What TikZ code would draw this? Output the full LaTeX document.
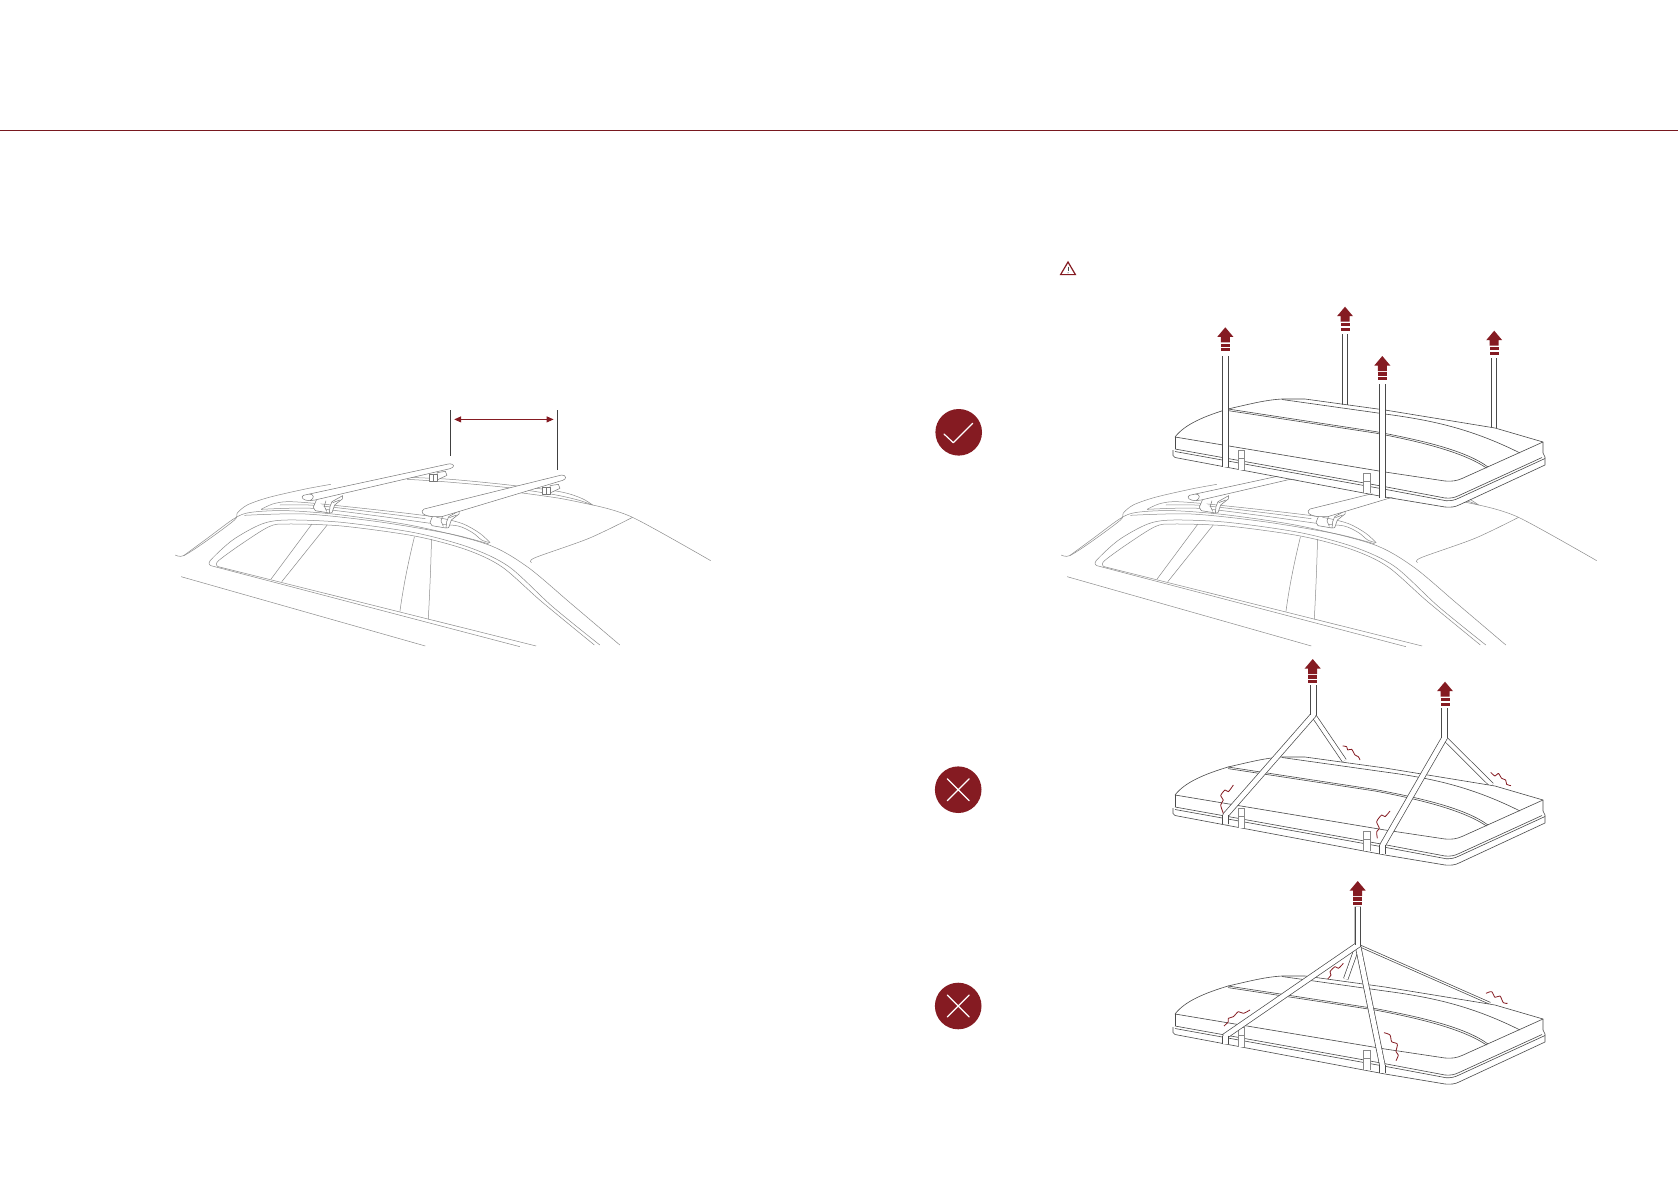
\documentclass[tikz,border=0pt]{standalone}
\usetikzlibrary{arrows.meta}
\definecolor{brickred}{HTML}{851B22}
\definecolor{carline}{HTML}{8C8C8C}
\definecolor{boxline}{HTML}{4A4A4A}
\tikzset{
  carstroke/.style={draw=carline,line width=.5pt,line join=round},
  barstroke/.style={draw=boxline!75,line width=.5pt,fill=white,line join=round},
  boxstroke/.style={draw=boxline,line width=.6pt,line join=round},
  bucklestroke/.style={draw=boxline!65,line width=.5pt},
  strapband/.style={draw=boxline,line width=.7pt,double=white,double distance=#1,line join=miter},
  strapband/.default=4.8pt,
  strapedge/.style={draw=boxline,line width=.7pt},
  wobble/.style={draw=brickred,line width=.8pt,line join=round},
  badge/.style={circle,fill=brickred,minimum size=46.6pt,inner sep=0pt,draw=none},
  badgemark/.style={draw=white,line width=1.2pt,line cap=round,line join=round},
  dimline/.style={draw=black!75,line width=.7pt},
  zoomcell/.style={shift={(#1)},scale=.33333}
}
% vertical run of a strap between two named coordinates; #3 is half its width
\newcommand\vband[3]{%
  \fill[white] ([xshift=-#3]#1) rectangle ([xshift=#3]#2);
  \draw[strapedge] ([xshift=-#3]#1) -- ([xshift=-#3]#2);
  \draw[strapedge] ([xshift=#3]#1) -- ([xshift=#3]#2);}
% lifting arrow, apex at (#1,#2)
\newcommand\liftarrow[2]{%
  \begin{scope}[shift={(#1,#2)}]
    \fill[brickred] (0,0) -- (8,9.5) -- (4.5,9.5) -- (4.5,15) -- (-4.5,15) -- (-4.5,9.5) -- (-8,9.5) -- cycle;
    \fill[brickred] (-4.5,16.4) rectangle (4.5,19.6);
    \fill[brickred] (-4.5,20.9) rectangle (4.5,24);
  \end{scope}}
% near foot, zoom units
\newcommand\nearfoot[2]{%
  \begin{scope}[shift={(#1,#2)},scale=.33333]
    \draw[barstroke] (70,148) -- (60,172) -- (66,182) -- (108,189) -- (110,170) -- (116,155) -- (148,137) -- (147,147) -- (124,165) -- (116,188) -- (108,189);
    \draw[barstroke,fill=none] (98,152) -- (93,168) -- (100,184);
    \draw[barstroke,fill=none] (118,158) -- (140,150);
  \end{scope}}
% far foot, zoom units
\newcommand\farfoot[2]{%
  \begin{scope}[shift={(#1,#2)},scale=.33333]
    \draw[barstroke] (420,62) -- (445,58) -- (450,70) -- (420,84) -- cycle;
    \draw[barstroke] (397,68) rectangle (420,88);
    \draw[barstroke,fill=none] (408,68) -- (408,88);
  \end{scope}}
\newcommand\carscene[1]{%
  \begin{scope}[shift={(#1,0)}]
    \begin{scope}[shift={(160,390)},xscale=.3635,yscale=.33333]
      % windscreen side and roof edge
      \draw[carstroke] plot[smooth,tension=.5] coordinates {(42,495) (65,497) (125,455) (205,390) (212,370) (240,345) (300,322) (400,297) (470,283)};
      \draw[carstroke] plot[smooth,tension=.5] coordinates {(65,497) (130,445) (205,385) (250,367) (350,362) (500,375) (700,408) (900,463) (1010,530) (1130,640) (1265,765)};
      \draw[carstroke] plot[smooth,tension=.5] coordinates {(232,376) (400,372) (600,395) (800,432) (905,462)};
      % window frame
      \draw[carstroke] plot[smooth,tension=.5] coordinates {(140,527) (138,512) (200,450) (280,402) (350,390) (500,397) (700,428) (850,472) (960,530) (1080,650) (1210,765)};
      \draw[carstroke] plot[smooth,tension=.5] coordinates {(160,530) (158,515) (220,465) (300,410) (350,402) (500,408) (700,438) (840,478) (940,530) (1050,635) (1195,765)};
      \draw[carstroke] (140,527) -- (990,770);
      \draw[carstroke] (160,530) -- (1035,768);
      \draw[carstroke] (58,560) -- (730,768);
      % pillars
      \draw[carstroke] (418,402) -- (305,568);
      \draw[carstroke] (460,405) -- (335,575);
      \draw[carstroke] (700,440) .. controls (680,530) and (668,600) .. (660,665);
      \draw[carstroke] (747,447) .. controls (745,530) and (742,610) .. (738,688);
      % near rail
      \draw[carstroke] plot[smooth,tension=.5] coordinates {(278,358) (310,342) (350,335) (425,340) (600,360) (750,380) (830,400) (880,430) (908,458)};
      \draw[carstroke] plot[smooth,tension=.5] coordinates {(278,358) (420,355) (600,378) (745,400) (820,408) (860,428) (885,450) (908,458)};
      \draw[carstroke] plot[smooth,tension=.5] coordinates {(330,345) (425,346) (600,368) (730,386)};
      % far rail and rear roof
      \draw[carstroke] plot[smooth,tension=.5] coordinates {(680,262) (800,268) (960,285) (1100,305) (1160,325) (1190,345)};
      \draw[carstroke] plot[smooth,tension=.5] coordinates {(680,268) (780,275) (950,292) (1080,313) (1150,330) (1190,345)};
      \draw[carstroke] plot[smooth,tension=.5] coordinates {(990,308) (1100,325) (1190,345)};
      \draw[carstroke] plot[smooth,tension=.5] coordinates {(1190,345) (1300,382) (1515,512)};
      \draw[carstroke] plot[smooth,tension=.5] coordinates {(1022,518) (1032,503) (1180,445) (1300,382)};
    \end{scope}
    % feet and bars
    \farfoot{410}{465}
    \farfoot{297}{452}
    \nearfoot{293.3}{450}
    \begin{scope}[zoomcell={290,460}]
      \draw[barstroke] (60,122) .. controls (40,122) and (30,112) .. (40,106) -- (475,12) .. controls (495,10) and (495,22) .. (480,26) -- (75,120) -- cycle;
      \draw[barstroke,fill=none] (60,122) .. controls (75,115) and (72,102) .. (58,102);
    \end{scope}
    \nearfoot{410}{465}
    \begin{scope}[zoomcell={410,465}]
      \draw[barstroke] (70,155) .. controls (35,152) and (30,140) .. (42,132) -- (455,30) .. controls (470,30) and (470,43) .. (458,46) -- (95,155) -- cycle;
    \end{scope}
  \end{scope}}
% the roof box; #1 is the vertical shift
\newcommand\roofbox[1]{%
  \begin{scope}[shift={(0,#1)}]
    \fill[white] (1175,437) .. controls (1185,424) and (1205,416) .. (1228,409) .. controls (1250,404) and (1265,400) .. (1282,399) -- (1305,399) -- (1495,428) -- (1543,442) -- (1543,453) -- (1545,457) -- (1545,465) -- (1458,505) -- (1445,507) -- (1173,457) -- (1173,450) -- cycle;
    % lid top
    \draw[boxstroke] (1175,437) .. controls (1185,424) and (1205,416) .. (1228,409) .. controls (1250,404) and (1265,400) .. (1282,399) -- (1305,399) -- (1385,410) -- (1495,428) -- (1543,442) -- (1543,453);
    \draw[boxstroke] (1282,399.5) -- (1385,414) .. controls (1430,420) and (1470,428) .. (1520,453);
    \draw[boxstroke] (1228,409) -- (1375,431.5) .. controls (1420,440) and (1465,450) .. (1488,467);
    \draw[boxstroke] (1228,410.6) -- (1375,433) .. controls (1420,441.5) and (1463,452) .. (1486.5,468);
    % lid edge
    \draw[boxstroke] (1175,437) -- (1175,449);
    \draw[boxstroke] (1175,437) -- (1385,472) -- (1445,481) .. controls (1452,481.5) and (1456,481) .. (1462,478.5) -- (1543,442);
    \draw[boxstroke] (1175,449) -- (1385,486.7) -- (1445,498) .. controls (1451,498.5) and (1455,497.5) .. (1459,495.5) -- (1542,457.5);
    % base
    \draw[boxstroke] (1175,451.5) -- (1385,489.3) -- (1446,500.7) .. controls (1451,501) and (1455,500) .. (1459,498) -- (1545,458.5);
    \draw[boxstroke] (1173,450) -- (1173,455.5) -- (1175,457.5) -- (1385,497) -- (1445,507) .. controls (1451,507.5) and (1455,507) .. (1459,505) -- (1545,465) -- (1545,457) -- (1543,453);
    % buckles
    \fill[white] (1238,450) rectangle (1244.5,470);
    \draw[bucklestroke] (1238,450) rectangle (1244.5,458);
    \draw[bucklestroke] (1238,458) -- (1238,470) (1244.5,458) -- (1244.5,470);
    \fill[white] (1363.5,473) rectangle (1370,493);
    \draw[bucklestroke] (1363.5,473) rectangle (1370,481);
    \draw[bucklestroke] (1363.5,481) -- (1363.5,493) (1370,481) -- (1370,493);
  \end{scope}}
\begin{document}
\begin{tikzpicture}[x=1pt,y=-1pt]
\useasboundingbox (0,0) rectangle (1678,1191);
\fill[white] (0,0) rectangle (1678,1191);

% header rule
\coordinate (ruleL) at (0,130.4);
\coordinate (ruleR) at (1678,130.4);
\draw[brickred!90!black,line width=1pt] (ruleL) -- (ruleR);

% warning sign
\draw[brickred,line width=1.2pt,line join=miter,fill=white] (1068,262) -- (1075.4,274.6) -- (1060.6,274.6) -- cycle;
\draw[boxline,line width=.9pt] (1068,266.5) -- (1068,271);
\fill[boxline] (1068,272.8) circle (.55);

% left car with spacing dimension
\carscene{0}
\coordinate (dimAa) at (450.4,410);
\coordinate (dimAb) at (450.4,456);
\coordinate (dimBa) at (557.3,410);
\coordinate (dimBb) at (557.3,470);
\draw[dimline] (dimAa) -- (dimAb);
\draw[dimline] (dimBa) -- (dimBb);
\coordinate (spanL) at (454.2,419.4);
\coordinate (spanR) at (553.6,419.4);
\draw[draw=brickred,line width=.9pt,{Triangle[length=7pt,width=6pt]}-{Triangle[length=7pt,width=6pt]}] (spanL) -- (spanR);

% --- correct lift
\carscene{886}
\coordinate (s2t) at (1344.8,334);
\coordinate (s2b) at (1344.8,404.5);
\coordinate (s4t) at (1494.2,358);
\coordinate (s4b) at (1494.2,428);
\vband{s2t}{s2b}{2.5pt}
\vband{s4t}{s4b}{2.5pt}
\roofbox{0}
\coordinate (s1t) at (1225.3,356);
\coordinate (s1b) at (1225.3,467);
\coordinate (s3t) at (1382.4,384);
\coordinate (s3b) at (1382.4,498);
\vband{s1t}{s1b}{3pt}
\vband{s3t}{s3b}{3pt}
\liftarrow{1225.3}{327.3}
\liftarrow{1345}{306.7}
\liftarrow{1382.3}{356}
\liftarrow{1494.2}{330.7}
\node[badge] (okbadge) at (958.7,432.3) {};
\draw[badgemark] (944,434) -- (953.3,442.7) -- (972.7,423.3);

% --- wrong lift: two forked straps
\coordinate (aTop) at (1313.3,685);
\coordinate (aJoin) at (1313.3,715);
\coordinate (aFoot) at (1225.7,815);
\coordinate (aEnd) at (1225.7,824);
\coordinate (aRear) at (1344.3,760.7);
\coordinate (bTop) at (1444.4,708);
\coordinate (bJoin) at (1444.4,738);
\coordinate (bFoot) at (1382.7,845);
\coordinate (bEnd) at (1382.7,853.5);
\coordinate (bRear) at (1491.7,785);
\draw[strapband=3.8pt] (aJoin) -- (aRear);
\draw[strapband=3.8pt] (bJoin) -- (bRear);
\roofbox{358}
\draw[strapband] (aTop) -- (aJoin) -- (aFoot) -- (aEnd);
\draw[strapband] (bTop) -- (bJoin) -- (bFoot) -- (bEnd);
\vband{aTop}{aJoin}{2.7pt}
\vband{bTop}{bJoin}{2.7pt}
\vband{aFoot}{aEnd}{2.9pt}
\vband{bFoot}{bEnd}{2.9pt}
\liftarrow{1312.7}{659}
\liftarrow{1445}{681.7}
\begin{scope}[zoomcell={1160,650}]
  \draw[wobble] plot[smooth,tension=.45] coordinates {(548,288) (560,290) (563,300) (575,298) (585,315) (595,320) (600,330)};
  \draw[wobble] plot[smooth,tension=.45] coordinates {(220,405) (205,425) (195,420) (182,437) (190,450) (182,465) (190,490)};
  \draw[wobble] plot[smooth,tension=.45] coordinates {(690,483) (675,500) (665,495) (650,515) (658,535) (650,545) (652,565)};
  \draw[wobble] plot[smooth,tension=.45] coordinates {(992,367) (1005,378) (1015,370) (1025,385) (1037,390) (1040,403) (1053,407)};
\end{scope}
\node[badge] (nobadgeA) at (958.2,789.7) {};
\draw[badgemark] (947.2,778.7) -- (969.2,800.7) (947.2,800.7) -- (969.2,778.7);

% --- wrong lift: single point
\coordinate (cTop) at (1357.8,906.5);
\coordinate (cJoin) at (1357.8,945);
\coordinate (cFootL) at (1225.7,1035.7);
\coordinate (cEndL) at (1225.7,1044);
\coordinate (cFootR) at (1382.3,1065);
\coordinate (cEndR) at (1382.3,1072.5);
\coordinate (cRearL) at (1345.7,979);
\coordinate (cRearR) at (1490,1003.3);
\draw[strapband=3.8pt] (cJoin) -- (cRearL);
\draw[strapband=1.2pt] (cJoin) -- (cRearR);
\roofbox{577}
\draw[strapband] (cJoin) -- (cFootR) -- (cEndR);
\draw[strapband] (cTop) -- (cJoin) -- (cFootL) -- (cEndL);
\vband{cTop}{cJoin}{2.7pt}
\vband{cFootL}{cEndL}{2.9pt}
\vband{cFootR}{cEndR}{2.9pt}
\liftarrow{1357.7}{881}
\begin{scope}[zoomcell={1160,870}]
  \draw[wobble] plot[smooth,tension=.45] coordinates {(550,280) (535,295) (525,290) (510,305) (513,315) (503,327)};
  \draw[wobble] plot[smooth,tension=.45] coordinates {(270,420) (250,430) (235,425) (220,440) (205,445) (205,455) (192,468)};
  \draw[wobble] plot[smooth,tension=.45] coordinates {(672,488) (690,495) (695,515) (712,522) (708,545) (715,555) (708,572)};
  \draw[wobble] plot[smooth,tension=.45] coordinates {(978,370) (995,365) (1005,382) (1020,378) (1030,398) (1043,400)};
\end{scope}
\node[badge] (nobadgeB) at (958.2,1006) {};
\draw[badgemark] (947.2,995) -- (969.2,1017) (947.2,1017) -- (969.2,995);
\end{tikzpicture}
\end{document}
